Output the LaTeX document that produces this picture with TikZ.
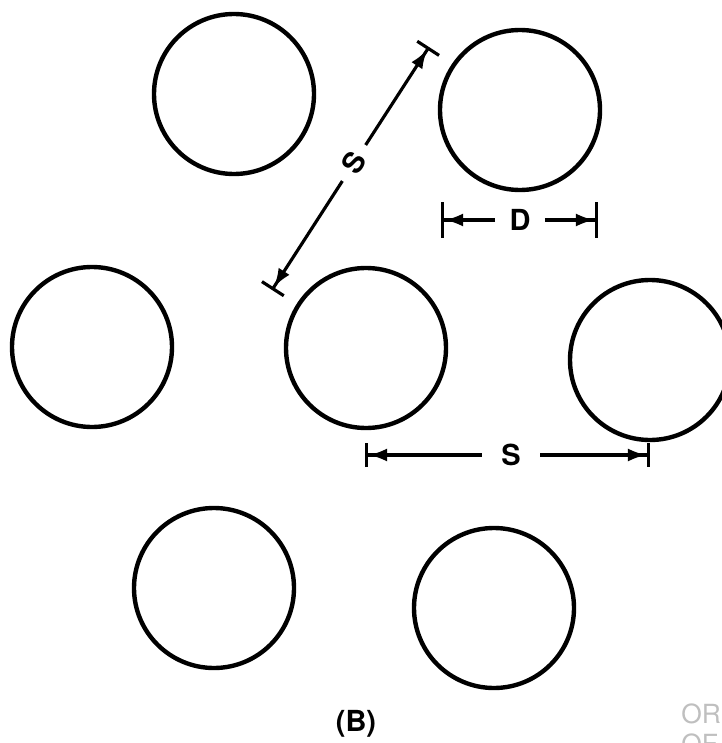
\documentclass[tikz,border=0pt]{standalone}
\usepackage{fontspec}
\setmainfont{TeX Gyre Heros}
\usetikzlibrary{arrows.meta}

\tikzset{
  hole/.style={line width=2.5pt},
  dimline/.style={line width=1.8pt, -{Latex[length=3.8mm,width=2.6mm]Bar[width=#1]}},
  dimlabel/.style={font=\bfseries\fontsize{16.5}{19}\selectfont, inner sep=#1},
}

\begin{document}
\begin{tikzpicture}[x=0.02cm, y=-0.02cm]
            \useasboundingbox (0,0) rectangle (722,743);

            % tube centres
            \coordinate (t1) at (234,94);
            \coordinate (t2) at (520,110);
            \coordinate (t3) at (92,347);
            \coordinate (t4) at (366,348);
            \coordinate (t5) at (650,360);
            \coordinate (t6) at (214,588);
            \coordinate (t7) at (494,608);

            \foreach \t in {t1,t2,t3,t4,t5,t6,t7}
                \draw[hole] (\t) circle (80);

            % diameter
            \coordinate (dl) at (441,220);
            \coordinate (dr) at (598,220);
            \node[dimlabel=8pt] (dlab) at (520,220) {D};
            \draw[dimline=0.72cm] (dlab) -- (dl);
            \draw[dimline=0.72cm] (dlab) -- (dr);

            % pitch, horizontal
            \coordinate (sl) at (365,455);
            \coordinate (sr) at (650,455);
            \node[dimlabel=11pt] (slab) at (511,455) {S};
            \draw[dimline=0.48cm] (slab) -- (sl);
            \draw[dimline=0.48cm] (slab) -- (sr);

            % pitch, diagonal
            \coordinate (ql) at (272,290);
            \coordinate (qu) at (429,47);
            \node[dimlabel=6.5pt, rotate=57] (qlab) at (354,163) {S};
            \draw[dimline=0.52cm] (qlab) -- (ql);
            \draw[dimline=0.52cm] (qlab) -- (qu);

            \node[dimlabel=0pt] (cap) at (356,724) {(B)};

            \node[anchor=west, inner sep=0pt, text=black!25, font=\fontsize{15}{18}\selectfont] (st1) at (681,714) {OR};
            \node[anchor=west, inner sep=0pt, text=black!25, font=\fontsize{15}{18}\selectfont] (st2) at (681,744) {OF};
        \end{tikzpicture}
\end{document}
